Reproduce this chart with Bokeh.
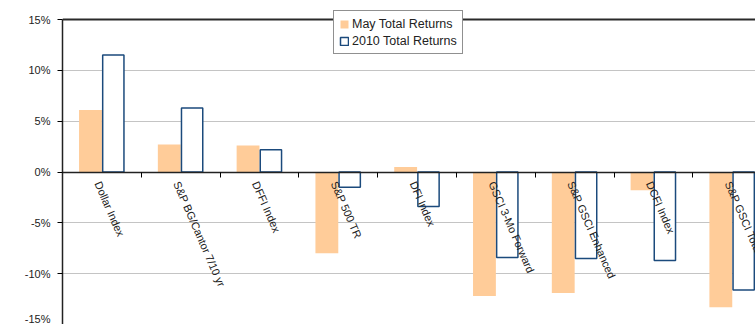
from bokeh.plotting import figure
from bokeh.models import (Range1d, FixedTicker, PrintfTickFormatter, ColumnDataSource,
                          Legend, LegendItem, LinearAxis)
from bokeh.core.properties import value
from bokeh.embed import file_html
from bokeh.resources import INLINE

categories = ["Dollar Index", "S&P BG/Cantor 7/10 yr", "DFFI Index", "S&P 500 TR", "DFI Index",
              "GSCI 3-Mo Forward", "S&P GSCI Enhanced", "DCFI Index", "S&P GSCI Total Return"]
may_returns = [6.1, 2.7, 2.6, -8.0, 0.5, -12.2, -11.9, -1.8, -13.3]
ytd_returns = [11.5, 6.3, 2.2, -1.5, -3.4, -8.4, -8.5, -8.7, -11.6]
y_ticks = [-15, -10, -5, 0, 5, 10, 15]

FONT = "Liberation Sans"
ORANGE = "#FFCC99"
NAVY = "#1B4A7C"
W = 0.29

idx = list(range(len(categories)))
centers = [i + 0.5 for i in idx]
src = ColumnDataSource(dict(
    cat=categories,
    xm=[c - W / 2 for c in centers],
    xy=[c + W / 2 for c in centers],
    xc=centers,
    zero=[0] * len(categories),
    may=may_returns,
    ytd=ytd_returns,
))

p = figure(width=755, height=324, output_backend="svg", toolbar_location=None,
           x_range=Range1d(0, 8.795), y_range=Range1d(-15, 16.87),
           min_border_left=62, min_border_top=0, min_border_right=0, min_border_bottom=0,
           x_axis_location=None)
p.outline_line_color = None
p.background_fill_color = "white"
p.border_fill_color = "white"

p.xgrid.visible = False
p.ygrid.ticker = FixedTicker(ticks=[-10, -5, 5, 10])
p.ygrid.grid_line_color = "#C4C4C4"
p.ygrid.grid_line_width = 1

p.hspan(y=[y_ticks[-1]], line_color="#2A2A2A", line_width=2)

r_may = p.vbar(x="xm", width=W, top="may", bottom=0, source=src,
               fill_color=ORANGE, line_color=None)
r_ytd = p.vbar(x="xy", width=W - 0.02, top="ytd", bottom=0, source=src,
               fill_color="white", line_color=NAVY, line_width=1.5)

yax = p.yaxis[0]
yax.ticker = FixedTicker(ticks=y_ticks)
yax.bounds = (y_ticks[0], y_ticks[-1])
yax.formatter = PrintfTickFormatter(format="%d%%")
yax.axis_line_color = "#222222"
yax.axis_line_width = 1.5
yax.major_tick_out = 5
yax.major_tick_in = 0
yax.minor_tick_line_color = None
yax.major_label_standoff = 7
yax.major_label_text_font = FONT
yax.major_label_text_font_size = "11px"
yax.major_label_text_color = "#222222"

xax = LinearAxis(fixed_location=0, ticker=FixedTicker(ticks=[i + 1 for i in idx]))
xax.major_label_text_font_size = "0px"
xax.major_label_text_color = None
xax.axis_line_color = "#222222"
xax.axis_line_width = 1.5
xax.major_tick_out = 5
xax.major_tick_in = 0
xax.minor_tick_line_color = None
p.add_layout(xax, "below")

p.text(x="xc", y="zero", text="cat", source=src, angle=-1.16, text_align="left",
       text_baseline="middle", x_offset=-4, y_offset=10,
       text_font=value(FONT), text_font_size="11px", text_color="#222222")

legend = Legend(items=[LegendItem(label="May Total Returns", renderers=[r_may]),
                       LegendItem(label="2010 Total Returns", renderers=[r_ytd])],
                location=(271, 270), orientation="vertical",
                label_text_font=FONT, label_text_font_size="12.5px", label_text_color="#222222",
                glyph_width=10, glyph_height=10, label_standoff=3, spacing=2,
                padding=5, margin=0, label_height=15,
                border_line_color="#222222", border_line_width=1.5,
                background_fill_color="white", background_fill_alpha=1)
p.add_layout(legend, "center")

open("out.html", "w").write(file_html(p, INLINE))
